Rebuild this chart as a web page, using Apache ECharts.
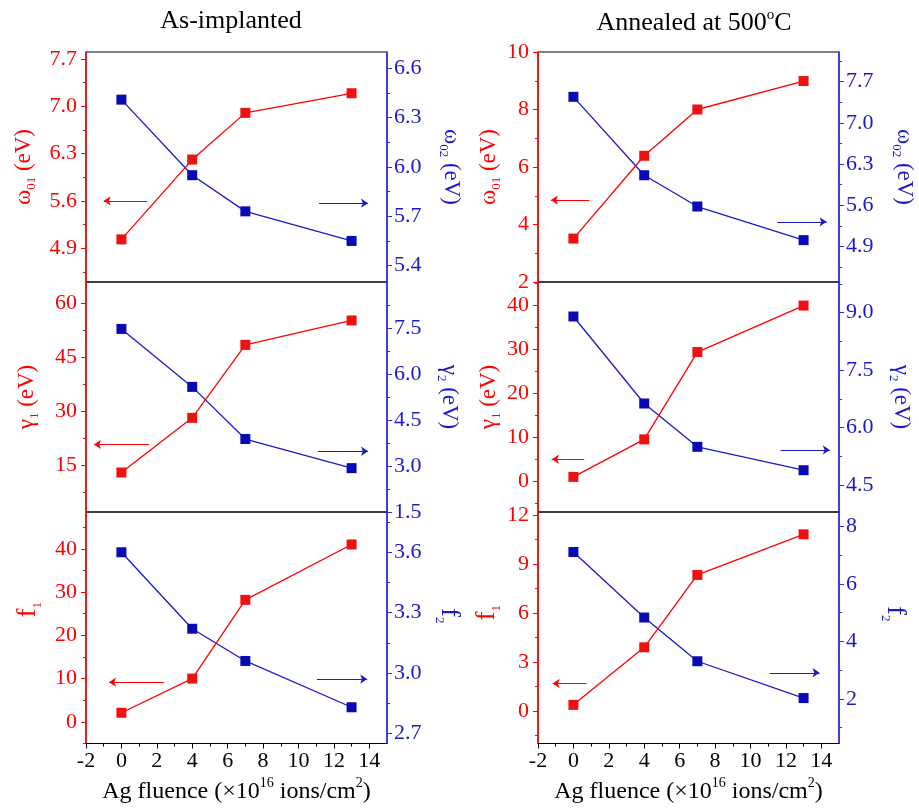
<!DOCTYPE html>
<html><head><meta charset="utf-8">
<script src="https://cdn.jsdelivr.net/npm/echarts@6/dist/echarts.min.js"></script>
<style>html,body{margin:0;padding:0;background:#fff}#c{width:919px;height:809px}</style>
</head><body><div id="c"></div>
<script>
// ---- data ----
const fluence = [0, 4, 7, 13];
const xTicks = [-2, 0, 2, 4, 6, 8, 10, 12, 14];
const xMinorTicks = [-1, 1, 3, 5, 7, 9, 11, 13];

// As-implanted
const asOmega01 = [5.03, 6.21, 6.90, 7.19];
const asOmega02 = [6.41, 5.95, 5.73, 5.55];
const asGamma1 = [13.0, 28.2, 48.5, 55.3];
const asGamma2 = [7.47, 5.58, 3.88, 2.93];
const asF1 = [2.1, 10.0, 28.2, 41.0];
const asF2 = [3.60, 3.22, 3.06, 2.83];
// Annealed at 500 C
const anOmega01 = [3.51, 6.39, 8.00, 8.99];
const anOmega02 = [7.44, 6.11, 5.58, 5.01];
const anGamma1 = [0.97, 9.48, 29.3, 39.85];
const anGamma2 = [8.90, 6.63, 5.50, 4.89];
const anF1 = [0.37, 3.90, 8.34, 10.83];
const anF2 = [7.11, 4.83, 3.31, 2.03];

// tick labels
const tlLeftTicks = [4.9, 5.6, 6.3, 7.0, 7.7];
const tlRightTicks = [5.4, 5.7, 6.0, 6.3, 6.6];
const mlLeftTicks = [15, 30, 45, 60];
const mlRightTicks = [1.5, 3.0, 4.5, 6.0, 7.5];
const blLeftTicks = [0, 10, 20, 30, 40];
const blRightTicks = [2.7, 3.0, 3.3, 3.6];
const trLeftTicks = [2, 4, 6, 8, 10];
const trRightTicks = [4.9, 5.6, 6.3, 7.0, 7.7];
const mrLeftTicks = [0, 10, 20, 30, 40];
const mrRightTicks = [4.5, 6.0, 7.5, 9.0];
const brLeftTicks = [0, 3, 6, 9, 12];
const brRightTicks = [2, 4, 6, 8];

// ---- style ----
const FONT = '"Liberation Serif","Times New Roman",serif';
const RED = '#ff0000', RED_MARK = '#ee1111';
const BLUE = '#1a1ac8', BLUE_MARK = '#0a0ab4', BLUE_AXIS = '#2a2aff';

function yName(main, sub, rest, color, size) {
  const fs = size || 23;
  return {
    text: '{m|' + main + '}' + (sub ? '{s|' + sub + '}' : '') + '{m|' + rest + '}',
    rich: {
      m: { fontFamily: FONT, fontSize: fs, lineHeight: fs + 5, color: color },
      s: { fontFamily: FONT, fontSize: 13, lineHeight: 14, color: color, verticalAlign: 'bottom' }
    }
  };
}

const colLeft = [86, 538];
const plotW = 301;
const rowTop = [52, 282, 512];
const rowH = [230, 230, 231.5];

const panels = [
  { col: 0, row: 0, red: asOmega01, blue: asOmega02,
    l: { min: 4.4, max: 7.8, ticks: tlLeftTicks, dec: 1, name: yName('ω', '01', ' (eV)', RED), gap: 48, shift: 0 },
    r: { min: 5.3, max: 6.7, ticks: tlRightTicks, dec: 1, name: yName('ω', '02', ' (eV)', BLUE), gap: 50, shift: 0 },
    redArrow: [1.45, -1.0, 5.6], blueArrow: [11.16, 13.93, 5.78] },
  { col: 0, row: 1, red: asGamma1, blue: asGamma2,
    l: { min: 2, max: 66, ticks: mlLeftTicks, dec: 0, name: yName('γ', '1', ' (eV)', RED), gap: 45, shift: 0 },
    r: { min: 1.5, max: 9.0, ticks: mlRightTicks, dec: 1, name: yName('γ', '2', ' (eV)', BLUE), gap: 48, shift: 0 },
    redArrow: [1.56, -1.55, 20.8], blueArrow: [11.1, 13.93, 3.48] },
  { col: 0, row: 2, red: asF1, blue: asF2,
    l: { min: -5, max: 48.5, ticks: blLeftTicks, dec: 0, name: yName('f', '1', '', RED, 27), gap: 42, shift: 36 },
    r: { min: 2.65, max: 3.8, ticks: blRightTicks, dec: 1, name: yName('f', '2', '', BLUE, 27), gap: 46, shift: 24 },
    redArrow: [2.4, -0.7, 9.18], blueArrow: [11.05, 13.88, 2.97] },
  { col: 1, row: 0, red: anOmega01, blue: anOmega02,
    l: { min: 2, max: 10, ticks: trLeftTicks, dec: 0, name: yName('ω', '01', ' (eV)', RED), gap: 33, shift: 0 },
    r: { min: 4.3, max: 8.2, ticks: trRightTicks, dec: 1, name: yName('ω', '02', ' (eV)', BLUE), gap: 51, shift: 0 },
    redArrow: [0.9, -1.27, 4.85], blueArrow: [11.51, 14.3, 5.32] },
  { col: 1, row: 1, red: anGamma1, blue: anGamma2,
    l: { min: -7, max: 45.2, ticks: mrLeftTicks, dec: 0, name: yName('γ', '1', ' (eV)', RED), gap: 35, shift: 0 },
    r: { min: 3.8, max: 9.8, ticks: mrRightTicks, dec: 1, name: yName('γ', '2', ' (eV)', BLUE), gap: 48, shift: 0 },
    redArrow: [0.61, -1.21, 4.97], blueArrow: [11.7, 14.48, 5.42] },
  { col: 1, row: 2, red: anF1, blue: anF2,
    l: { min: -2, max: 12.2, ticks: brLeftTicks, dec: 0, name: yName('f', '1', '', RED, 27), gap: 29, shift: 30 },
    r: { min: 0.45, max: 8.5, ticks: brRightTicks, dec: 0, name: yName('f', '2', '', BLUE, 27), gap: 40, shift: 28 },
    redArrow: [0.74, -1.17, 1.68], blueArrow: [11.09, 13.9, 2.91] }
];

function minorsOf(ticks, min, max) {
  const s = (ticks[1] - ticks[0]) / 2;
  const out = [];
  for (let v = ticks[0] - s; v >= min - 1e-9; v -= 2 * s) out.push(+v.toFixed(4));
  for (let v = ticks[0] + s; v <= max + 1e-9; v += 2 * s) {
    const r = +v.toFixed(4);
    if (!ticks.some(t => Math.abs(t - r) < 1e-6)) out.push(r);
  }
  return out;
}

const grids = [], xAxes = [], yAxes = [], series = [];

panels.forEach((p, gi) => {
  grids.push({ left: colLeft[p.col], top: rowTop[p.row], width: plotW, height: rowH[p.row],
    show: true, borderColor: '#000', borderWidth: 1, containLabel: false });
  const bottom = p.row === 2;
  xAxes.push({
    type: 'value', gridIndex: gi, position: 'bottom', min: -2, max: 15,
    axisLine: { show: bottom, onZero: false, lineStyle: { color: '#000', width: 1 } },
    axisTick: { show: bottom, length: 5, customValues: xTicks, lineStyle: { color: '#000' } },
    axisLabel: { show: bottom, customValues: xTicks, color: '#000', fontSize: 22, fontFamily: FONT, margin: 7 },
    splitLine: { show: false },
    name: bottom ? '{t|Ag fluence (×10}{p|16}{t| ions/cm}{p|2}{t|)}' : '',
    nameLocation: 'middle', nameGap: 33,
    nameTextStyle: { rich: {
      t: { fontFamily: FONT, fontSize: 24, lineHeight: 30, color: '#000' },
      p: { fontFamily: FONT, fontSize: 14, lineHeight: 14, color: '#000', verticalAlign: 'top' } } }
  });
  if (bottom) {
    xAxes.push({
      type: 'value', gridIndex: gi, position: 'bottom', min: -2, max: 15,
      axisLine: { show: false, onZero: false }, axisLabel: { show: false }, splitLine: { show: false },
      axisTick: { show: true, length: 3, customValues: xMinorTicks, lineStyle: { color: '#000' } }
    });
  }
  const xIdx = xAxes.findIndex(a => a.gridIndex === gi);

  function addY(spec, side, color) {
    const idx = yAxes.length;
    const pad = spec.shift ? (side === 'left' ? [0, 0, 0, spec.shift] : [0, spec.shift, 0, 0]) : 0;
    yAxes.push({
      type: 'value', gridIndex: gi, position: side, min: spec.min, max: spec.max,
      axisLine: { show: true, onZero: false, lineStyle: { color: side === 'left' ? RED : BLUE_AXIS, width: 1.5 } },
      axisTick: { show: true, length: 5, customValues: spec.ticks, lineStyle: { color: side === 'left' ? RED : BLUE_AXIS } },
      axisLabel: { customValues: spec.ticks, formatter: v => (+v).toFixed(spec.dec), color: color,
        fontSize: 22, fontFamily: FONT, margin: side === 'left' ? 9 : 7 },
      splitLine: { show: false },
      name: spec.name.text, nameLocation: 'middle', nameGap: spec.gap,
      nameRotate: side === 'left' ? 90 : -90,
      nameTextStyle: { rich: spec.name.rich, padding: pad }
    });
    yAxes.push({
      type: 'value', gridIndex: gi, position: side, min: spec.min, max: spec.max,
      axisLine: { show: false, onZero: false }, axisLabel: { show: false }, splitLine: { show: false },
      axisTick: { show: true, length: 3, customValues: minorsOf(spec.ticks, spec.min, spec.max),
        lineStyle: { color: side === 'left' ? RED : BLUE_AXIS } }
    });
    return idx;
  }
  const li = addY(p.l, 'left', RED);
  const ri = addY(p.r, 'right', BLUE);

  function mkSeries(vals, yi, lineColor, markColor, arrow) {
    return {
      type: 'line', xAxisIndex: xIdx, yAxisIndex: yi,
      data: fluence.map((x, k) => [x, vals[k]]),
      symbol: 'rect', symbolSize: 10, showSymbol: true,
      itemStyle: { color: markColor },
      lineStyle: { color: lineColor, width: 1.3 },
      emphasis: { disabled: true }, silent: true, animation: false,
      markLine: {
        silent: true, animation: false, symbol: ['none', 'arrow'], symbolSize: 7,
        label: { show: false }, emphasis: { disabled: true },
        lineStyle: { color: lineColor, width: 1.2, type: 'solid' },
        data: [[{ coord: [arrow[0], arrow[2]] }, { coord: [arrow[1], arrow[2]] }]]
      }
    };
  }
  series.push(mkSeries(p.blue, ri, BLUE, BLUE_MARK, p.blueArrow));
  series.push(mkSeries(p.red, li, RED, RED_MARK, p.redArrow));
});

const chart = echarts.init(document.getElementById('c'), null, { renderer: 'canvas' });
chart.setOption({
  animation: false,
  backgroundColor: '#fff',
  grid: grids, xAxis: xAxes, yAxis: yAxes, series: series,
  graphic: [
    { type: 'text', x: 231, y: 8, style: { text: 'As-implanted', textAlign: 'center',
      fontFamily: FONT, fontSize: 26, fill: '#000' } },
    { type: 'text', x: 694, y: 8, style: { text: '{a|Annealed at 500}{s|o}{a|C}', textAlign: 'center',
      rich: { a: { fontFamily: FONT, fontSize: 26, lineHeight: 30, fill: '#000', color: '#000' },
              s: { fontFamily: FONT, fontSize: 15, lineHeight: 15, verticalAlign: 'top', fill: '#000', color: '#000' } } } }
  ]
});
</script></body></html>
